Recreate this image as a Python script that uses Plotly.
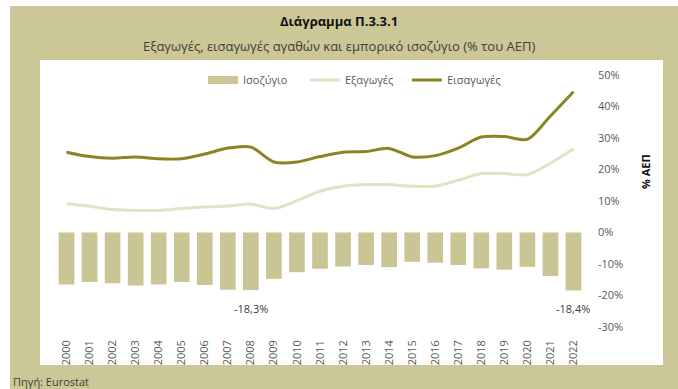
import plotly.graph_objects as go

years = [str(y) for y in range(2000, 2023)]
balance = [-16.5, -15.7, -16.1, -16.8, -16.5, -15.7, -16.7, -18.2, -18.3, -14.7, -12.6, -11.5,
           -10.8, -10.3, -11.0, -9.3, -9.6, -10.3, -11.4, -11.8, -10.9, -13.8, -18.4]
exports = [9.1, 8.3, 7.3, 7.0, 7.0, 7.6, 8.1, 8.4, 9.0, 7.6, 10.1, 13.1,
           14.7, 15.2, 15.2, 14.7, 14.7, 16.6, 18.7, 18.7, 18.4, 22.0, 26.5]
imports = [25.5, 24.1, 23.6, 24.0, 23.4, 23.4, 24.9, 26.8, 27.1, 22.4, 22.4, 24.1,
           25.5, 25.7, 26.7, 24.0, 24.4, 26.8, 30.3, 30.5, 29.6, 37.0, 44.7]
ytick_vals = [-30, -20, -10, 0, 10, 20, 30, 40, 50]
ytick_text = ["-30%", "-20%", "-10%", "0%", "10%", "20%", "30%", "40%", "50%"]
labelled_years = ["2008", "2022"]

title = "Διάγραμμα Π.3.3.1"
subtitle = "Εξαγωγές, εισαγωγές αγαθών και εμπορικό ισοζύγιο (% του ΑΕΠ)"
source = "Πηγή: Eurostat"

W, H = 678, 389
L, R, T, B = 55, 93, 75, 62
PW, PH = W - L - R, H - T - B

def px(x):
    return (x - L) / PW

def py(y):
    return (H - B - y) / PH

KHAKI = "rgb(203,199,150)"
BAR = "rgb(202,197,149)"
IMP = "rgb(139,132,37)"
EXP = "rgb(229,225,195)"
FONT = "Open Sans"

fig = go.Figure()
fig.add_trace(go.Bar(x=years, y=balance, name="Ισοζύγιο", marker_color=BAR,
                     marker_line_width=0, showlegend=False))
# legend-only proxy so the legend key is a wide flat rectangle like the reference
fig.add_trace(go.Scatter(x=[None], y=[None], name="Ισοζύγιο", mode="lines",
                         line=dict(color=BAR, width=8), hoverinfo="skip"))
fig.add_trace(go.Scatter(x=years, y=exports, name="Εξαγωγές", mode="lines",
                         line=dict(color=EXP, width=3, shape="spline", smoothing=0.8)))
fig.add_trace(go.Scatter(x=years, y=imports, name="Εισαγωγές", mode="lines",
                         line=dict(color=IMP, width=3, shape="spline", smoothing=0.8)))

shapes = [
    dict(type="rect", xref="paper", yref="paper", x0=px(10), x1=px(W + 5), y0=py(6), y1=py(H + 5),
         fillcolor=KHAKI, line_width=0, layer="below"),
    dict(type="rect", xref="paper", yref="paper", x0=px(40), x1=px(663), y0=py(60), y1=py(365),
         fillcolor="white", line_width=0, layer="below"),
]

annotations = [
    dict(text="<b>" + title + "</b>", xref="paper", yref="paper", x=px(339), y=py(21),
         showarrow=False, font=dict(family=FONT, size=13, color="#111111"),
         xanchor="center", yanchor="middle"),
    dict(text=subtitle, xref="paper", yref="paper", x=px(339), y=py(46),
         showarrow=False, font=dict(family=FONT, size=13, color="#404040"),
         xanchor="center", yanchor="middle"),
    dict(text=source, xref="paper", yref="paper", x=px(11), y=py(381),
         showarrow=False, font=dict(family=FONT, size=11, color="#404040"),
         xanchor="left", yanchor="middle"),
    dict(text="<b>% ΑΕΠ</b>", xref="paper", yref="paper", x=px(645), y=py(172),
         showarrow=False, textangle=-90, font=dict(family=FONT, size=11, color="#111111"),
         xanchor="center", yanchor="middle"),
]
for yr in labelled_years:
    i = years.index(yr)
    v = balance[i]
    annotations.append(dict(text=f"{v:.1f}".replace(".", ",") + "%", x=i, y=v,
                            xref="x", yref="y", showarrow=False, yanchor="top", yshift=-9,
                            font=dict(family=FONT, size=11, color="#404040")))

fig.update_layout(
    width=W, height=H, template="none",
    margin=dict(l=L, r=R, t=T, b=B, pad=0),
    paper_bgcolor="white", plot_bgcolor="rgba(0,0,0,0)",
    font=dict(family=FONT, size=11, color="#595959"),
    bargap=0.32, showlegend=True,
    legend=dict(orientation="h", x=px(356), y=py(80), xanchor="center", yanchor="middle",
                bgcolor="rgba(0,0,0,0)", font=dict(family=FONT, size=11, color="#595959"),
                itemwidth=30, traceorder="normal", entrywidth=57, entrywidthmode="pixels"),
    xaxis=dict(type="category", range=[-0.5, 22.5], showgrid=False, zeroline=False,
               showline=False, ticks="", tickangle=-90, ticklabelstandoff=10,
               tickfont=dict(family=FONT, size=11, color="#595959"), automargin=False),
    yaxis=dict(side="right", range=[-30, 50], tickvals=ytick_vals, ticktext=ytick_text,
               showgrid=False, zeroline=False, showline=False, ticks="",
               ticklabelstandoff=12, tickfont=dict(family=FONT, size=11, color="#595959"),
               automargin=False),
    shapes=shapes, annotations=annotations,
)

fig.write_html("out.html")
